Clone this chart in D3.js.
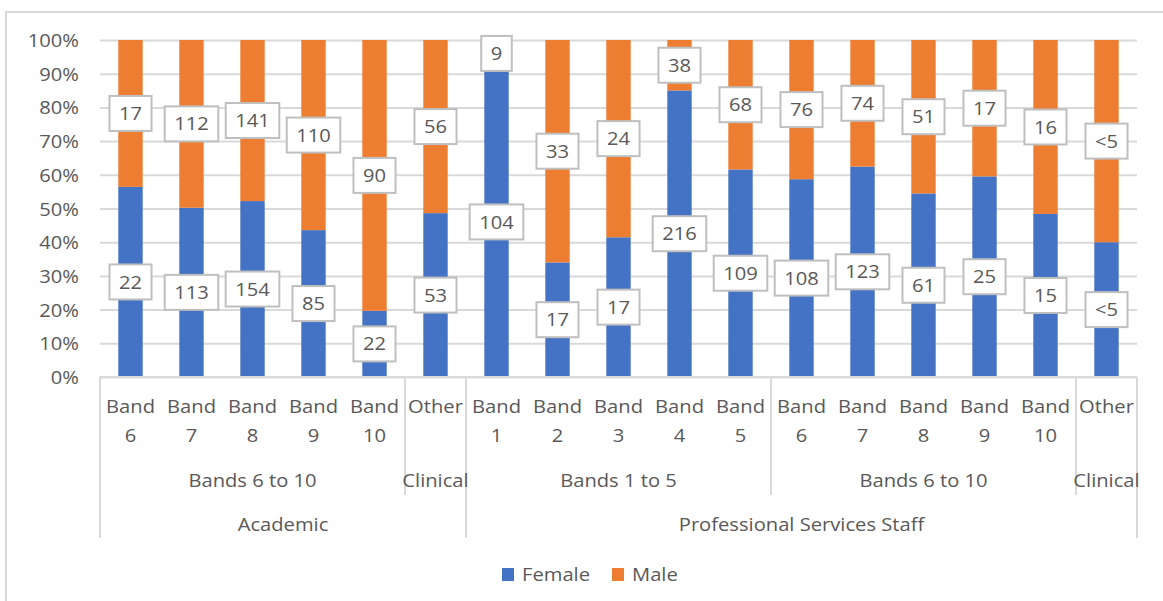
<!DOCTYPE html>
<html>
<head>
<meta charset="utf-8">
<script src="https://cdn.jsdelivr.net/npm/d3@7"></script>
<style>
  html, body { margin: 0; padding: 0; background: #fff; }
  svg { display: block; }
  text { font-family: "Open Sans", "Noto Sans", sans-serif; fill: #595959; }
</style>
</head>
<body>
<svg id="chart" width="1163" height="601"></svg>
<script>
// Staff counts by grade, split by gender
const bands     = ["Band 6", "Band 7", "Band 8", "Band 9", "Band 10", "Other",
                   "Band 1", "Band 2", "Band 3", "Band 4", "Band 5",
                   "Band 6", "Band 7", "Band 8", "Band 9", "Band 10", "Other"];
const female    = [22, 113, 154, 85, 22, 53, 104, 17, 17, 216, 109, 108, 123, 61, 25, 15, 2];
const male      = [17, 112, 141, 110, 90, 56, 9, 33, 24, 38, 68, 76, 74, 51, 17, 16, 3];
const femaleTxt = ["22", "113", "154", "85", "22", "53", "104", "17", "17", "216", "109", "108", "123", "61", "25", "15", "<5"];
const maleTxt   = ["17", "112", "141", "110", "90", "56", "9", "33", "24", "38", "68", "76", "74", "51", "17", "16", "<5"];
// Grouping rows under the category axis: [label, first index, last index]
const subGroups = [["Bands 6 to 10", 0, 4], ["Clinical", 5, 5], ["Bands 1 to 5", 6, 10],
                   ["Bands 6 to 10", 11, 15], ["Clinical", 16, 16]];
const staffGroups = [["Academic", 0, 5], ["Professional Services Staff", 6, 16]];
const yTicks = [0, 0.1, 0.2, 0.3, 0.4, 0.5, 0.6, 0.7, 0.8, 0.9, 1];
const seriesNames = ["Female", "Male"];
const colors = { Female: "#4472C4", Male: "#ED7D31" };

const SX = 1.12;          // horizontal stretch for all text
const FS = 18;            // font size
const GRID = "#d9d9d9";

const svg = d3.select("#chart");
const plotLeft = 100, plotRight = 1137, plotTop = 40, plotBottom = 377;

// outer frame (left and top edges)
svg.append("path")
  .attr("d", `M6,601 V12 H1163`)
  .attr("fill", "none").attr("stroke", GRID).attr("stroke-width", 2);

const idx = d3.range(bands.length);
const x = d3.scaleBand().domain(idx).range([plotLeft, plotRight]).paddingInner(0.6).paddingOuter(0.3);
const y = d3.scaleLinear().domain([0, 1]).range([plotBottom, plotTop]);

function stretchedText(parent, tx, ty, str, anchor) {
  return parent.append("text")
    .attr("transform", `translate(${tx},${ty}) scale(${SX},1)`)
    .attr("text-anchor", anchor || "middle")
    .attr("dominant-baseline", "central")
    .attr("font-size", FS)
    .text(str);
}

// gridlines + y tick labels
const yAxis = svg.append("g").attr("transform", `translate(${plotLeft},0)`)
  .call(d3.axisLeft(y).tickValues(yTicks).tickSize(-(plotRight - plotLeft)).tickFormat(d3.format(".0%")));
yAxis.select(".domain").remove();
yAxis.selectAll(".tick line").attr("stroke", GRID).attr("stroke-width", 2);
yAxis.selectAll(".tick text")
  .attr("x", 0).attr("dy", null)
  .attr("dominant-baseline", "central")
  .attr("transform", `translate(-21,0) scale(${SX},1)`)
  .attr("font-size", FS)
  .attr("fill", "#595959");
yAxis.attr("font-family", null).attr("font-size", null);

// stacked 100% bars
const rows = idx.map(i => {
  const tot = female[i] + male[i];
  return { i, f: female[i] / tot, m: male[i] / tot };
});
const stack = d3.stack().keys(["f", "m"])(rows);
const barG = svg.append("g");
stack.forEach((layer, k) => {
  barG.selectAll(null).data(layer).join("rect")
    .attr("x", d => x(d.data.i))
    .attr("width", x.bandwidth())
    .attr("y", d => y(d[1]))
    .attr("height", d => y(d[0]) - y(d[1]))
    .attr("fill", colors[seriesNames[k]]);
});

// category axis line
const axG = svg.append("g").attr("stroke", GRID).attr("stroke-width", 2);
axG.append("line").attr("x1", plotLeft).attr("x2", plotRight).attr("y1", plotBottom).attr("y2", plotBottom);

const step = x.step();
const edge = i => plotLeft + i * step;   // left edge of category slot i
// separators between sub-groups (row 2) and staff groups (row 3)
const subEdges = new Set();
subGroups.forEach(g => { subEdges.add(g[1]); subEdges.add(g[2] + 1); });
const staffEdges = new Set();
staffGroups.forEach(g => { staffEdges.add(g[1]); staffEdges.add(g[2] + 1); });
Array.from(new Set([...subEdges, ...staffEdges])).forEach(e => {
  const y2 = staffEdges.has(e) ? 538 : 495;
  axG.append("line").attr("x1", edge(e)).attr("x2", edge(e)).attr("y1", plotBottom).attr("y2", y2);
});

// category labels
const catG = svg.append("g");
bands.forEach((b, i) => {
  const cx = x(i) + x.bandwidth() / 2;
  const parts = b.split(" ");
  stretchedText(catG, cx, 406, parts[0]);
  if (parts[1]) stretchedText(catG, cx, 435, parts[1]);
});
subGroups.forEach(([label, a, z]) => {
  stretchedText(catG, (edge(a) + edge(z + 1)) / 2, 480, label);
});
staffGroups.forEach(([label, a, z]) => {
  stretchedText(catG, (edge(a) + edge(z + 1)) / 2, 524, label);
});

// data labels in boxed callouts at segment centres
const lblG = svg.append("g");
function boxLabel(cx, cy, str) {
  const g = lblG.append("g");
  const rect = g.append("rect");
  const t = stretchedText(g, cx, cy, str);
  const w = t.node().getBBox().width * SX + 19;
  const h = 35;
  rect.attr("x", cx - w / 2).attr("y", cy - h / 2).attr("width", w).attr("height", h)
    .attr("fill", "#fff").attr("stroke", "#bfbfbf").attr("stroke-width", 2);
}
stack.forEach((layer, k) => {
  const txt = k === 0 ? femaleTxt : maleTxt;
  layer.forEach(d => {
    boxLabel(x(d.data.i) + x.bandwidth() / 2, y((d[0] + d[1]) / 2), txt[d.data.i]);
  });
});

// legend
const legG = svg.append("g");
const legItems = [{ name: "Female", sx: 502, tx: 522 }, { name: "Male", sx: 612, tx: 632 }];
legItems.forEach(it => {
  legG.append("rect").attr("x", it.sx).attr("y", 568).attr("width", 12).attr("height", 13)
    .attr("fill", colors[it.name]);
  stretchedText(legG, it.tx, 574, it.name, "start");
});
</script>
</body>
</html>
